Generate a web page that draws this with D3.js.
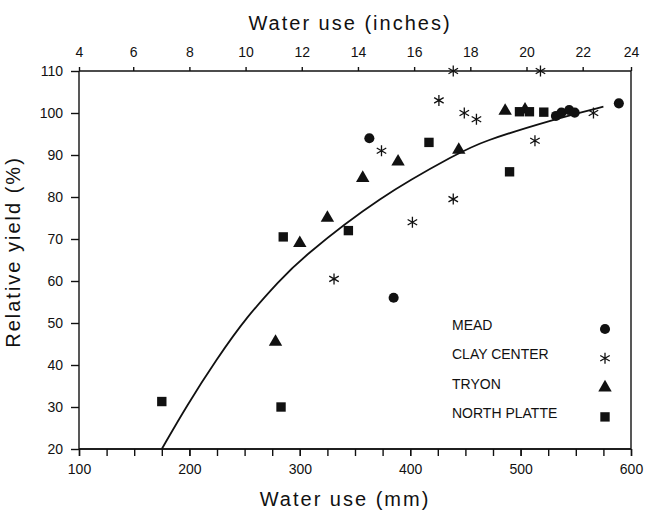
<!DOCTYPE html>
<html>
<head>
<meta charset="utf-8">
<script src="https://cdn.jsdelivr.net/npm/d3@7"></script>
<style>
    body { margin: 0; background: #fff; }
    text { font-family: "Liberation Sans", Arial, sans-serif; fill: #111; }
</style>
</head>
<body>
<div id="chart"></div>
<script>
// sites - water use (mm) and relative yield (%)
var mead_mm         = [363, 385, 532, 537, 544, 549, 589];
var mead_yield      = [94, 56, 99.3, 100.1, 100.7, 100.1, 102.3];
var clay_mm         = [331, 374, 402, 426, 439, 439, 449, 460, 513, 518, 566];
var clay_yield      = [60.5, 91, 74, 103, 110, 79.5, 100, 98.5, 93.4, 110, 100];
var tryon_mm        = [278, 300, 325, 357, 389, 444, 486, 504];
var tryon_yield     = [45.5, 69, 75, 84.5, 88.4, 91.2, 100.5, 100.8];
var platte_mm       = [175, 283, 285, 344, 417, 490, 499, 508, 521];
var platte_yield    = [31.3, 30, 70.5, 72, 93, 86, 100.3, 100.3, 100.2];

// fitted curve
var fit_mm          = [175, 197.5, 224.7, 251.9, 282.2, 299.5, 372.6, 445, 463, 529.7, 575];
var fit_yield       = [20, 30.3, 41.4, 51.5, 60.2, 65, 80.2, 90.6, 93, 98.5, 101.5];

var x_ticks         = [100, 200, 300, 400, 500, 600];
var x_minor         = d3.range(100, 601, 25);
var inch_ticks      = [4, 6, 8, 10, 12, 14, 16, 18, 20, 22, 24];
var y_ticks         = [20, 30, 40, 50, 60, 70, 80, 90, 100, 110];
var legend_names    = ['MEAD', 'CLAY CENTER', 'TRYON', 'NORTH PLATTE'];

var chart_width     =   662;
var chart_height    =   513;
var m               =   {left: 79, right: 31, top: 71, bottom: 64};
var w               =   chart_width - m.left - m.right;
var h               =   chart_height - m.top - m.bottom;

var svg = d3.select( '#chart' )
    .append( 'svg' )
    .attr( 'width', chart_width )
    .attr( 'height', chart_height );

var g = svg.append( 'g' )
    .attr( 'transform', 'translate(' + m.left + ',' + m.top + ')' );

// scales (top inch scale as drawn in the original, ends clamped to the frame)
var x_scale = d3.scaleLinear().domain([100, 600]).range([0, w]);
var x_inch  = d3.scaleLinear().domain([4.07, 23.72]).range([0, w]).clamp(true);
var y_scale = d3.scaleLinear().domain([20, 110]).range([h, 0]);

// axes
var bottom_minor = g.append( 'g' )
    .attr( 'transform', 'translate(0,' + h + ')' )
    .call( d3.axisBottom(x_scale).tickValues(x_minor).tickSize(7).tickFormat('') );
var bottom = g.append( 'g' )
    .attr( 'transform', 'translate(0,' + h + ')' )
    .call( d3.axisBottom(x_scale).tickValues(x_ticks).tickSize(7).tickPadding(8) );
var top_ax = g.append( 'g' )
    .call( d3.axisTop(x_inch).tickValues(inch_ticks).tickSize(4).tickPadding(10) );
var left = g.append( 'g' )
    .call( d3.axisLeft(y_scale).tickValues(y_ticks).tickSize(8).tickPadding(8) );
var right = g.append( 'g' )
    .attr( 'transform', 'translate(' + w + ',0)' )
    .call( d3.axisRight(y_scale).tickValues([]).tickSizeOuter(0) );

[bottom_minor, bottom, top_ax, left, right].forEach(function(a){
    a.selectAll( 'path, line' )
        .attr( 'stroke', '#111' )
        .attr( 'stroke-width', 1.4 );
    a.selectAll( 'text' )
        .attr( 'font-size', 14 )
        .attr( 'fill', '#111' )
        .attr( 'font-family', '"Liberation Sans", Arial, sans-serif' );
    a.select( '.domain' ).attr( 'd', a === left || a === right ? 'M0,0V' + h : 'M0,0H' + w );
});

// titles
svg.append( 'text' )
    .text( 'Water use (inches)' )
    .attr( 'x', 350 )
    .attr( 'y', 30 )
    .attr( 'font-size', 20 )
    .attr( 'letter-spacing', 2 )
    .attr( 'text-anchor', 'middle' );

svg.append( 'text' )
    .text( 'Water use (mm)' )
    .attr( 'x', 345 )
    .attr( 'y', 506 )
    .attr( 'font-size', 20 )
    .attr( 'letter-spacing', 2 )
    .attr( 'text-anchor', 'middle' );

svg.append( 'text' )
    .text( 'Relative yield (%)' )
    .attr( 'transform', 'translate(20,252) rotate(-90)' )
    .attr( 'font-size', 20 )
    .attr( 'letter-spacing', 2 )
    .attr( 'text-anchor', 'middle' );

// fitted curve
var fit = fit_mm.map(function(d, i){ return [d, fit_yield[i]]; });
g.append( 'path' )
    .datum( fit )
    .attr( 'fill', 'none' )
    .attr( 'stroke', '#111' )
    .attr( 'stroke-width', 1.8 )
    .attr( 'd', d3.line()
        .x(function(d){ return x_scale(d[0]); })
        .y(function(d){ return y_scale(d[1]); })
        .curve(d3.curveBasis) );

// markers
var star_path = function(r){
    var a = r * Math.cos(Math.PI / 6), b = r * Math.sin(Math.PI / 6);
    return 'M0,' + (-r) + 'V' + r +
        'M' + (-a) + ',' + (-b) + 'L' + a + ',' + b +
        'M' + (-a) + ',' + b + 'L' + a + ',' + (-b);
};
var shapes = [
    {d: d3.symbol().type(d3.symbolCircle).size(80)(), star: false},
    {d: star_path(5.5), star: true},
    {d: d3.symbol().type(d3.symbolTriangle).size(78)(), star: false},
    {d: d3.symbol().type(d3.symbolSquare).size(88)(), star: false}
];
var sites = [
    [mead_mm, mead_yield],
    [clay_mm, clay_yield],
    [tryon_mm, tryon_yield],
    [platte_mm, platte_yield]
];

var draw_mark = function(sel, s){
    sel.attr( 'd', shapes[s].d )
        .attr( 'fill', shapes[s].star ? 'none' : '#111' )
        .attr( 'stroke', shapes[s].star ? '#111' : 'none' )
        .attr( 'stroke-width', 1.3 );
};

sites.forEach(function(site, s){
    g.selectAll( 'path.site' + s )
        .data( site[0] )
        .enter()
        .append( 'path' )
        .attr( 'class', 'site' + s )
        .attr( 'transform', function(d, i){
            return 'translate(' + x_scale(d) + ',' + y_scale(site[1][i]) + ')';
        })
        .call( draw_mark, s );
});

// legend
var legend = svg.selectAll( 'g.legend' )
    .data( legend_names )
    .enter()
    .append( 'g' )
    .attr( 'class', 'legend' )
    .attr( 'transform', function(d, i){
        return 'translate(452,' + (330 + i * 29.3) + ')';
    });
legend.append( 'text' )
    .text(function(d){ return d; })
    .attr( 'font-size', 14 );
legend.append( 'path' )
    .attr( 'transform', 'translate(153,-1)' )
    .each(function(d, i){ d3.select(this).call( draw_mark, i ); });
</script>
</body>
</html>
